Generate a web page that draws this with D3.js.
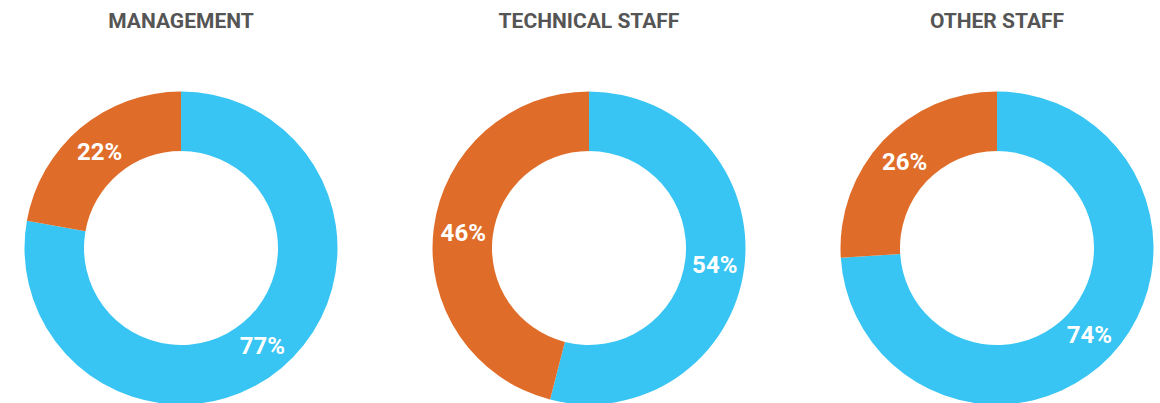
<!DOCTYPE html>
<html>
<head>
<meta charset="utf-8">
<script src="https://cdn.jsdelivr.net/npm/d3@7"></script>
<style>
  html, body { margin: 0; padding: 0; background: #fff; }
  svg { display: block; }
</style>
</head>
<body>
<svg id="chart" width="1160" height="403"></svg>
<script>
const titles = ["MANAGEMENT", "TECHNICAL STAFF", "OTHER STAFF"];
const segments = ["Yes", "No"];
const managementValues = [77, 22];
const technicalValues = [54, 46];
const otherValues = [74, 26];
const seriesValues = [managementValues, technicalValues, otherValues];
const colors = ["#38C5F3", "#E06C29"];

const W = 1160, H = 403;
const svg = d3.select("#chart");

const x = d3.scalePoint().domain(titles).range([181, 997]);
const color = d3.scaleOrdinal().domain(segments).range(colors);
const outerR = 156.5, innerR = 97, cy = 248;

const pie = d3.pie().sort(null).value(d => d.value).startAngle(0).endAngle(2 * Math.PI);
const arc = d3.arc().innerRadius(innerR).outerRadius(outerR);
const labelArc = d3.arc().innerRadius(innerR + 30).outerRadius(outerR - 30);

titles.forEach((t, i) => {
  const cx = x(t);
  svg.append("text")
    .attr("x", cx).attr("y", 28)
    .attr("text-anchor", "middle")
    .attr("font-family", "Roboto, sans-serif")
    .attr("font-weight", "bold")
    .attr("font-size", 21)
    .attr("fill", "#555555")
    .text(t);

  const data = segments.map((s, j) => ({ key: s, value: seriesValues[i][j] }));
  const g = svg.append("g").attr("transform", `translate(${cx},${cy})`);
  const arcs = pie(data);
  g.selectAll("path").data(arcs).join("path")
    .attr("d", arc)
    .attr("fill", d => color(d.data.key));
  g.selectAll("text").data(arcs).join("text")
    .attr("transform", d => `translate(${labelArc.centroid(d)})`)
    .attr("text-anchor", "middle")
    .attr("dy", "0.36em")
    .attr("font-family", "Roboto, sans-serif")
    .attr("font-weight", "bold")
    .attr("font-size", 24)
    .attr("fill", "#ffffff")
    .text(d => d.data.value + "%");
});
</script>
</body>
</html>
